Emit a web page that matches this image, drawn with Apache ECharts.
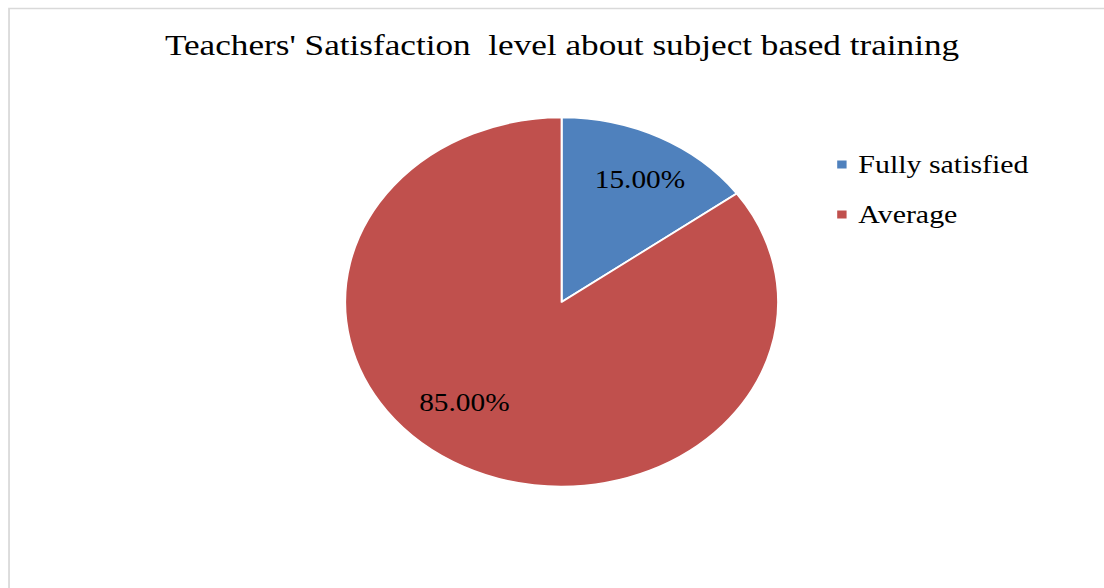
<!DOCTYPE html>
<html><head><meta charset="utf-8">
<script src="https://cdn.jsdelivr.net/npm/echarts@6/dist/echarts.min.js"></script>
<style>
html,body{margin:0;padding:0;background:#fff;overflow:hidden;}
#wrap{width:1104px;height:588px;overflow:hidden;position:relative;background:#fff;}
#chart{width:941px;height:588px;transform-origin:0 0;transform:scaleX(1.1732);}
</style></head><body>
<div id="wrap"><div id="chart"></div></div>
<script>
// ---- data ----
const titleText = "Teachers' Satisfaction  level about subject based training";
const categories = ['Fully satisfied', 'Average'];
const values = [15, 85];
const colors = ['#4F81BD', '#C0504D'];

// ---- layout (unscaled chart coordinates) ----
const CX = 478.7, CY = 302, R = 184.5;
const labelFrac = [0.756, 0.706];
const labelAngleTweak = [1.6, 12.5];
const FONT = 'Liberation Serif';

const total = values.reduce((a, b) => a + b, 0);
function midAngle(i) {
  let cum = 0;
  for (let k = 0; k < i; k++) cum += values[k];
  return (cum + values[i] / 2) / total * 360;
}

const chart = echarts.init(document.getElementById('chart'), null, {renderer: 'svg'});
chart.setOption({
  animation: false,
  backgroundColor: '#fff',
  title: {
    text: titleText,
    left: 140.6,
    top: 30,
    padding: 0,
    textStyle: {fontFamily: FONT, fontSize: 30, fontWeight: 'normal', color: '#000', lineHeight: 30}
  },
  legend: {
    orient: 'vertical',
    left: 711.6,
    top: 151.5,
    padding: 0,
    itemGap: 24,
    itemWidth: 10,
    itemHeight: 10,
    icon: 'rect',
    data: categories,
    textStyle: {fontFamily: FONT, fontSize: 25.5, color: '#000', lineHeight: 26, padding: [0, 0, 0, 4]}
  },
  graphic: [{
    type: 'rect',
    shape: {x: 7.7, y: 8.5, width: 2000, height: 2000},
    style: {fill: 'none', stroke: '#d9d9d9', lineWidth: 1.5},
    silent: true
  }],
  series: [{
    type: 'pie',
    center: [CX, CY],
    radius: R,
    startAngle: 90,
    clockwise: true,
    silent: true,
    itemStyle: {borderColor: '#fff', borderWidth: 1.7},
    label: {
      show: true,
      position: 'inside',
      fontFamily: FONT,
      fontSize: 25,
      color: '#000',
      formatter: p => p.value.toFixed(2) + '%'
    },
    labelLine: {show: false},
    labelLayout: function (params) {
      const i = params.dataIndex;
      const th = (midAngle(i) + labelAngleTweak[i]) * Math.PI / 180;
      const f = labelFrac[i] * R;
      return {x: CX + f * Math.sin(th), y: CY - f * Math.cos(th), align: 'center', verticalAlign: 'middle'};
    },
    data: categories.map((c, i) => ({name: c, value: values[i], itemStyle: {color: colors[i]}}))
  }]
});
</script>
</body></html>
